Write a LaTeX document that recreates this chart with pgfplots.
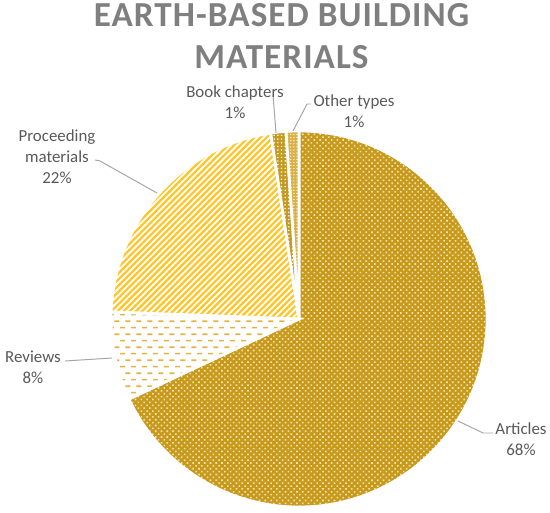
\documentclass[border=0pt]{standalone}
\usepackage{fontspec}
\setmainfont{Carlito}
\newfontfamily\titlefont[LetterSpace=3]{Carlito}
\usepackage{pgfplots}
\usepackage{pgfplotstable}
\pgfplotsset{compat=1.18}
\usetikzlibrary{patterns.meta}

\definecolor{artgold}{HTML}{C79A1E}
\definecolor{artdot}{HTML}{F2E2A6}
\definecolor{procyel}{HTML}{FFC52A}
\definecolor{revgold}{HTML}{E3B440}
\definecolor{bookgold}{HTML}{C49A22}
\definecolor{othgold}{HTML}{D8B043}
\definecolor{lblgray}{HTML}{595959}
\definecolor{ttlgray}{HTML}{7F7F7F}
\definecolor{leadgray}{HTML}{A6A6A6}

\tikzdeclarepattern{
  name=revdash,
  type=uncolored,
  bottom left={(0pt,0pt)},
  top right={(7.8pt,9.2pt)},
  tile size={(7.8pt,9.2pt)},
  code={
    \fill (0pt,1.8pt) rectangle (3.5pt,2.9pt);
    \fill (3.9pt,6.4pt) rectangle (7.4pt,7.5pt);
  }
}

\tikzset{
  lbl/.style={font=\fontsize{12}{14}\selectfont, text=lblgray, anchor=base, inner sep=0pt},
  lead/.style={draw=leadgray, line width=0.7pt},
  ttl/.style={font=\titlefont\bfseries\fontsize{25}{30}\selectfont, text=ttlgray, anchor=base, inner sep=0pt},
}

% shares of each publication type (%)
\pgfplotstableread[col sep=comma]{
type,value
Articles,68
Reviews,7.6
Proceeding materials,22
Book chapters,1.3
Other types,1.1
}\piedata

\pgfplotstablegetelem{0}{value}\of\piedata \let\vA\pgfplotsretval
\pgfplotstablegetelem{1}{value}\of\piedata \let\vB\pgfplotsretval
\pgfplotstablegetelem{2}{value}\of\piedata \let\vC\pgfplotsretval
\pgfplotstablegetelem{3}{value}\of\piedata \let\vD\pgfplotsretval
\pgfplotstablegetelem{4}{value}\of\piedata \let\vE\pgfplotsretval
\pgfmathsetmacro\aA{90}
\pgfmathsetmacro\aB{\aA-3.6*\vA}
\pgfmathsetmacro\aC{\aB-3.6*\vB}
\pgfmathsetmacro\aD{\aC-3.6*\vC}
\pgfmathsetmacro\aE{\aD-3.6*\vD}
\pgfmathsetmacro\aF{\aE-3.6*\vE}
\def\R{4.7cm}

\newcommand\slice[3]{%
  \path[#3] (axis cs:299,193) -- ++(#1:\R) arc[start angle=#1, end angle=#2, radius=\R] -- cycle;}

\begin{document}
\begin{tikzpicture}
\begin{axis}[
    x=0.025cm, y=0.025cm,
    xmin=0, xmax=550, ymin=0, ymax=512,
    hide axis, clip=false,
]
\path (axis cs:0,0) rectangle (axis cs:550,512);

\slice{\aA}{\aB}{preaction={fill=artgold}, pattern={Dots[angle=45, distance=2.9pt, radius=0.8pt]}, pattern color=artdot, draw=white, line width=2pt}
\slice{\aB}{\aC}{preaction={fill=white}, pattern=revdash, pattern color=revgold, draw=white, line width=2pt}
\slice{\aC}{\aD}{preaction={fill=procyel}, pattern={Lines[angle=45, distance=3.1pt, line width=1.3pt]}, pattern color=white, draw=white, line width=2pt}
\slice{\aD}{\aE}{preaction={fill=bookgold}, pattern={Dots[distance=2.6pt, radius=0.6pt]}, pattern color=white, draw=white, line width=2pt}
\slice{\aE}{\aF}{preaction={fill=othgold}, pattern={Dots[distance=2.2pt, radius=0.5pt]}, pattern color=white, draw=white, line width=2pt}

% leader lines
\draw[lead] (axis cs:95,352) -- (axis cs:100,351) -- (axis cs:157,319);
\draw[lead] (axis cs:273,417) -- (axis cs:276,379);
\draw[lead] (axis cs:311,408) -- (axis cs:307,408) -- (axis cs:293,381);
\draw[lead] (axis cs:65,151) -- (axis cs:112,154);
\draw[lead] (axis cs:493,79) -- (axis cs:483,79) -- (axis cs:458,91);

% labels
\node[lbl] at (axis cs:57,370.5) {Proceeding};
\node[lbl] at (axis cs:57,349.5) {materials};
\node[lbl] at (axis cs:57,328.5) {22\%};
\node[lbl] at (axis cs:235,414.5) {Book chapters};
\node[lbl] at (axis cs:235,393.5) {1\%};
\node[lbl] at (axis cs:354,405.5) {Other types};
\node[lbl] at (axis cs:354,384.5) {1\%};
\node[lbl] at (axis cs:33,149.5) {Reviews};
\node[lbl] at (axis cs:33,128.5) {8\%};
\node[lbl] at (axis cs:521,77.5) {Articles};
\node[lbl] at (axis cs:521,56.5) {68\%};

% title
\node[ttl] at (axis cs:281.5,485) {EARTH-BASED BUILDING};
\node[ttl] at (axis cs:281.5,443) {MATERIALS};
\end{axis}
\end{tikzpicture}
\end{document}
